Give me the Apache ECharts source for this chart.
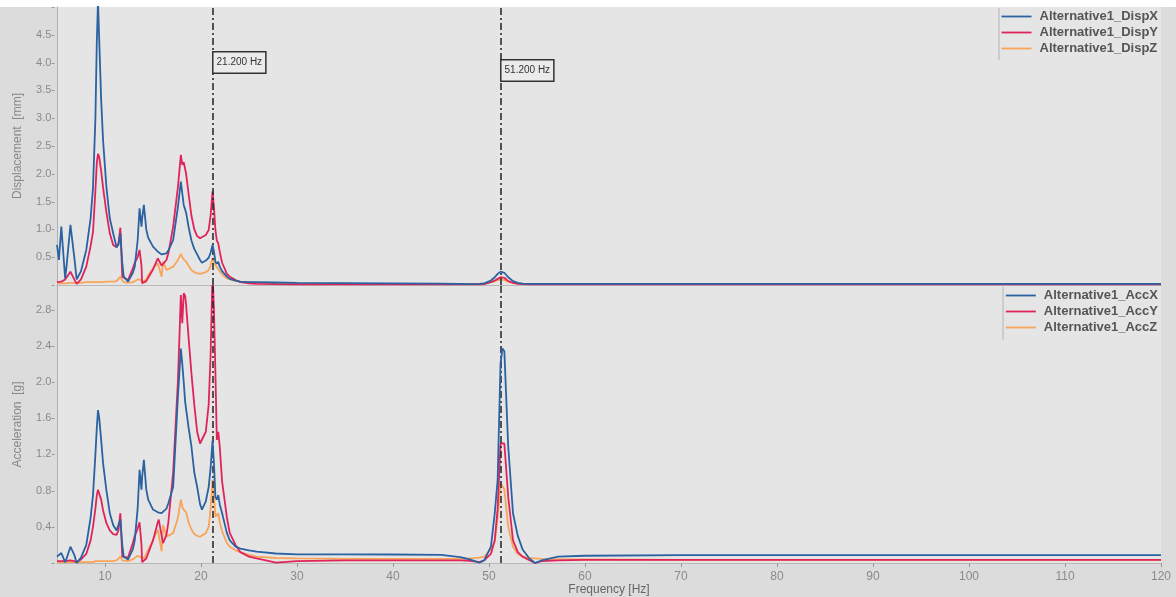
<!DOCTYPE html>
<html><head><meta charset="utf-8">
<script src="https://cdn.jsdelivr.net/npm/echarts@6/dist/echarts.min.js"></script>
<style>html,body{margin:0;padding:0;background:#dcdcdc;}#c{width:1176px;height:597px;}</style>
</head><body><div id="c"></div>
<script>
const freq = [5.0,5.2,5.45,5.85,6.0,6.4,6.8,7.05,7.5,8.05,
 8.5,8.75,9.0,9.15,9.27,9.4,9.6,9.8,10.15,10.5,
 10.85,11.2,11.4,11.6,11.8,11.95,12.4,12.9,13.1,13.4,
 13.6,13.8,13.87,14.05,14.3,14.5,15.0,15.5,15.6,15.9,
 16.05,16.4,16.6,17.1,17.6,17.9,18.05,18.2,18.35,18.45,
 18.7,19.0,19.3,19.6,19.9,20.1,20.5,20.8,21.0,21.2,
 21.35,21.5,21.65,21.8,21.95,22.2,22.7,23.0,23.6,24.1,
 25.0,25.8,27.8,30,35,40,45,47,48,49,
 49.5,50.2,50.6,50.9,51.2,51.4,51.6,52.0,52.5,53.0,
 53.5,54.2,54.8,55.5,57.2,60,70,80,90,100,110,120];

const dispX = [0.72,0.45,1.05,0.12,0.35,1.08,0.5,0.1,0.25,0.63,
 1.2,1.75,3.0,4.4,5.1,4.4,3.33,2.6,1.75,1.2,
 0.93,0.68,0.72,0.93,0.4,0.15,0.06,0.22,0.33,0.8,
 1.38,1.05,1.2,1.44,1.0,0.85,0.69,0.6,0.58,0.55,
 0.54,0.57,0.62,0.81,1.41,1.86,1.65,1.44,1.44,1.3,
 1.05,0.8,0.65,0.55,0.45,0.4,0.44,0.49,0.58,0.72,
 0.6,0.42,0.38,0.42,0.33,0.25,0.15,0.11,0.08,0.06,
 0.05,0.05,0.045,0.04,0.035,0.03,0.025,0.02,0.015,0.02,
 0.03,0.08,0.14,0.2,0.24,0.24,0.22,0.14,0.07,0.04,
 0.025,0.02,0.02,0.02,0.02,0.02,0.02,0.02,0.02,0.02,0.02,0.02];

const dispY = [0.05,0.05,0.06,0.1,0.12,0.24,0.1,0.02,0.1,0.33,
 0.7,0.95,1.7,2.2,2.36,2.3,2.05,1.75,1.3,0.93,
 0.72,0.68,0.75,1.03,0.15,0.12,0.09,0.3,0.4,0.5,
 0.63,0.35,0.03,0.05,0.07,0.09,0.28,0.48,0.46,0.35,
 0.33,0.45,0.57,1.05,1.77,2.34,2.16,2.21,2.2,2.0,
 1.65,1.25,1.0,0.88,0.84,0.84,0.9,0.99,1.25,1.68,
 1.4,0.99,0.8,0.75,0.6,0.4,0.2,0.15,0.09,0.05,
 0.03,0.02,0.015,0.012,0.012,0.012,0.012,0.012,0.01,0.01,
 0.015,0.05,0.08,0.11,0.14,0.15,0.13,0.07,0.04,0.02,
 0.015,0.012,0.012,0.012,0.012,0.012,0.012,0.012,0.012,0.012,0.012,0.012];

const dispZ = [0.03,0.03,0.03,0.03,0.03,0.04,0.04,0.04,0.04,0.05,
 0.05,0.05,0.05,0.05,0.05,0.05,0.05,0.05,0.06,0.06,
 0.06,0.07,0.09,0.15,0.09,0.05,0.04,0.05,0.07,0.1,
 0.12,0.09,0.05,0.06,0.1,0.18,0.3,0.39,0.38,0.15,
 0.42,0.27,0.28,0.33,0.45,0.56,0.5,0.46,0.45,0.42,
 0.35,0.27,0.23,0.21,0.2,0.2,0.23,0.27,0.35,0.48,
 0.42,0.36,0.32,0.3,0.25,0.19,0.12,0.1,0.07,0.06,
 0.05,0.04,0.035,0.03,0.025,0.022,0.02,0.02,0.02,0.025,
 0.03,0.05,0.07,0.09,0.1,0.1,0.09,0.06,0.04,0.03,
 0.025,0.02,0.02,0.02,0.02,0.02,0.02,0.02,0.02,0.02,0.02,0.02];

const accX = [0.07,0.05,0.11,0.01,0.05,0.18,0.09,0.0,0.06,0.2,
 0.5,0.75,1.2,1.5,1.69,1.6,1.36,1.1,0.8,0.55,
 0.42,0.36,0.38,0.48,0.2,0.07,0.04,0.15,0.25,0.6,
 1.03,0.81,0.95,1.14,0.81,0.7,0.59,0.56,0.56,0.55,
 0.55,0.6,0.66,0.84,1.84,2.37,2.2,2.0,1.78,1.77,
 1.5,1.29,1.0,0.84,0.65,0.59,0.68,0.84,1.05,1.35,
 1.1,0.73,0.7,0.75,0.65,0.55,0.33,0.25,0.18,0.16,
 0.14,0.125,0.105,0.096,0.096,0.094,0.09,0.065,0.04,0.003,
 0.03,0.18,0.55,0.92,2.2,2.37,2.34,1.29,0.55,0.3,
 0.15,0.05,0.0,0.03,0.07,0.08,0.088,0.088,0.088,0.088,0.088,0.088];

const accY = [0.02,0.02,0.02,0.02,0.02,0.03,0.02,0.01,0.04,0.1,
 0.25,0.4,0.6,0.75,0.81,0.8,0.7,0.58,0.44,0.36,
 0.32,0.31,0.36,0.55,0.07,0.06,0.06,0.22,0.3,0.38,
 0.45,0.2,0.01,0.03,0.05,0.07,0.25,0.45,0.48,0.3,
 0.22,0.31,0.45,1.0,2.02,2.96,2.65,2.98,2.95,2.85,
 2.5,2.1,1.75,1.45,1.32,1.32,1.45,1.75,2.3,3.2,
 2.8,2.1,1.36,1.45,1.29,0.9,0.5,0.33,0.2,0.12,
 0.07,0.05,0.005,0.02,0.03,0.03,0.03,0.03,0.025,0.01,
 0.03,0.1,0.25,0.6,1.32,1.34,1.32,0.73,0.25,0.12,
 0.07,0.03,0.0,0.02,0.03,0.035,0.035,0.035,0.035,0.035,0.035,0.035];

const accZ = [0.01,0.01,0.01,0.01,0.01,0.01,0.01,0.01,0.01,0.01,
 0.01,0.01,0.02,0.02,0.02,0.02,0.02,0.02,0.02,0.02,
 0.02,0.03,0.04,0.07,0.03,0.01,0.02,0.04,0.05,0.08,
 0.09,0.06,0.04,0.05,0.1,0.15,0.25,0.37,0.36,0.13,
 0.42,0.29,0.3,0.33,0.5,0.7,0.62,0.59,0.59,0.56,
 0.45,0.37,0.32,0.3,0.29,0.29,0.33,0.4,0.6,0.92,
 0.75,0.51,0.52,0.55,0.45,0.35,0.22,0.18,0.14,0.12,
 0.09,0.07,0.055,0.05,0.045,0.045,0.045,0.045,0.05,0.06,
 0.07,0.15,0.24,0.5,0.88,0.85,0.81,0.4,0.18,0.1,
 0.07,0.055,0.05,0.045,0.04,0.04,0.035,0.035,0.035,0.035,0.035,0.035];

const xTicks = [10,20,30,40,50,60,70,80,90,100,110,120];
const markerFreqs = [21.2, 51.2];
const markerLabels = ['21.200 Hz', '51.200 Hz'];
const markerLabelY = [4.0, 3.86];
const dispNames = ['Alternative1_DispX','Alternative1_DispY','Alternative1_DispZ'];
const accNames = ['Alternative1_AccX','Alternative1_AccY','Alternative1_AccZ'];

const colors = ['#2a62a2', '#e0245a', '#f8a55a'];
const FONT = 'Liberation Sans, Arial, sans-serif';
const pairs = v => freq.map((f, i) => [f, v[i]]);
const LINE_ICON = 'path://M0,0 L30,0 L30,1.8 L0,1.8 Z';

const markLine = {
  silent: true, symbol: 'none', animation: false,
  label: { show: false },
  lineStyle: { color: '#222', width: 1.5, type: [7, 3, 2, 3] },
  data: markerFreqs.map(f => ({ xAxis: f }))
};
const markPoint = {
  silent: true, animation: false, symbol: 'rect', symbolSize: 0,
  label: {
    show: true, position: 'right', distance: 1,
    fontFamily: FONT, fontSize: 10, color: '#333',
    backgroundColor: '#ebebeb', borderColor: '#333', borderWidth: 1.5,
    padding: [5, 3, 5, 3],
    formatter: p => p.name
  },
  data: markerFreqs.map((f, i) => ({ name: markerLabels[i], coord: [f, markerLabelY[i]] }))
};

function mkSeries(name, data, color, idx, z, extra) {
  return Object.assign({
    name, type: 'line', xAxisIndex: idx, yAxisIndex: idx,
    data: pairs(data), showSymbol: false, symbol: 'none', z,
    lineStyle: { color, width: 1.8 }, itemStyle: { color },
    animation: false
  }, extra || {});
}

const yLabelStyle = (maxShow) => ({
  fontFamily: FONT, fontSize: 11, color: '#8a8a8a', margin: 2,
  formatter: v => (v === 0 ? '-' : (v > maxShow ? '-' : v.toFixed(1) + '-'))
});

const legendBase = {
  orient: 'vertical', right: 18, padding: 0, itemGap: 3,
  itemWidth: 30, itemHeight: 13, selectedMode: false, icon: LINE_ICON,
  textStyle: { fontFamily: FONT, fontSize: 13, fontWeight: 'bold', color: '#555', padding: [0, 0, 0, 3] }
};

const option = {
  backgroundColor: '#dcdcdc',
  textStyle: { fontFamily: FONT },
  graphic: [
    { type: 'rect', shape: { x: 0, y: 0, width: 1176, height: 7 }, style: { fill: '#ffffff' }, silent: true },
    { type: 'line', shape: { x1: 999, y1: 8, x2: 999, y2: 60 }, style: { stroke: '#b4b4b4', lineWidth: 1 }, silent: true },
    { type: 'line', shape: { x1: 1003, y1: 287, x2: 1003, y2: 340 }, style: { stroke: '#b4b4b4', lineWidth: 1 }, silent: true }
  ],
  grid: [
    { left: 57, right: 15, top: 7, height: 278, show: true, backgroundColor: '#e5e5e5', borderWidth: 0 },
    { left: 57, right: 15, top: 286, height: 277, show: true, backgroundColor: '#e5e5e5', borderWidth: 0 }
  ],
  legend: [
    Object.assign({}, legendBase, { data: dispNames, top: 10 }),
    Object.assign({}, legendBase, { data: accNames, top: 289 })
  ],
  xAxis: [
    { type: 'value', gridIndex: 0, min: 5, max: 120,
      axisLine: { show: true, lineStyle: { color: '#b8b8b8' } },
      axisTick: { show: false }, axisLabel: { show: false }, splitLine: { show: false } },
    { type: 'value', gridIndex: 1, min: 5, max: 120,
      name: 'Frequency [Hz]', nameLocation: 'middle', nameGap: 21,
      nameTextStyle: { fontFamily: FONT, fontSize: 12, color: '#666' },
      axisLine: { show: true, lineStyle: { color: '#b8b8b8' } },
      axisTick: { show: true, customValues: xTicks, length: 4, lineStyle: { color: '#999' } },
      axisLabel: { customValues: xTicks, fontFamily: FONT, fontSize: 12, color: '#8a8a8a', margin: 8 },
      splitLine: { show: false } }
  ],
  yAxis: [
    { type: 'value', gridIndex: 0, min: 0, max: 5, interval: 0.5,
      name: 'Displacement  [mm]', nameLocation: 'middle', nameGap: 33,
      nameTextStyle: { fontFamily: FONT, fontSize: 12, color: '#888' },
      axisLine: { show: true, lineStyle: { color: '#b0b0b0' } }, axisTick: { show: false },
      axisLabel: yLabelStyle(4.9), splitLine: { show: false } },
    { type: 'value', gridIndex: 1, min: 0, max: 3.06, interval: 0.4,
      name: 'Acceleration  [g]', nameLocation: 'middle', nameGap: 33,
      nameTextStyle: { fontFamily: FONT, fontSize: 12, color: '#888' },
      axisLine: { show: true, lineStyle: { color: '#b0b0b0' } }, axisTick: { show: false },
      axisLabel: Object.assign(yLabelStyle(2.9), { showMaxLabel: false }), splitLine: { show: false } }
  ],
  series: [
    mkSeries(dispNames[0], dispX, colors[0], 0, 5, { markLine, markPoint }),
    mkSeries(dispNames[1], dispY, colors[1], 0, 4),
    mkSeries(dispNames[2], dispZ, colors[2], 0, 3),
    mkSeries(accNames[0], accX, colors[0], 1, 5, { markLine }),
    mkSeries(accNames[1], accY, colors[1], 1, 4),
    mkSeries(accNames[2], accZ, colors[2], 1, 3)
  ]
};

const chart = echarts.init(document.getElementById('c'), null, { renderer: 'canvas' });
chart.setOption(option);
</script>
</body></html>
